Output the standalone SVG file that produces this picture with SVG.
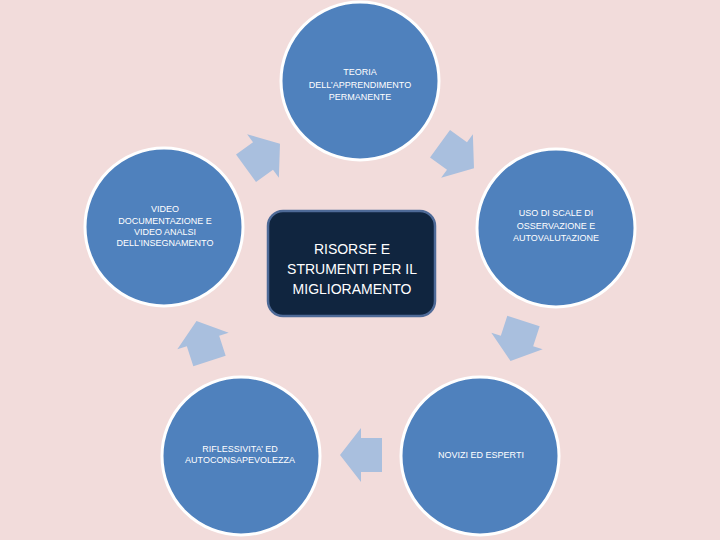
<svg xmlns="http://www.w3.org/2000/svg" width="720" height="540" viewBox="0 0 720 540">
<defs>
<style>
.bg{fill:#F2DCDB}
.node circle{fill:#4F81BD;stroke:#FFFFFF;stroke-width:3}
.nt{font-family:"Liberation Sans",Arial,sans-serif;font-size:9px;fill:#FFFFFF;text-anchor:middle}
.ct{font-family:"Liberation Sans",Arial,sans-serif;font-size:14px;fill:#FFFFFF;text-anchor:middle}
.arr{fill:#A9BFDE}
</style>
<polygon id="arrow" points="-21,-17 0,-17 0,-27 21,0 0,27 0,17 -21,17"/>
</defs>
<rect class="bg" x="0" y="0" width="720" height="540"/>
<g id="connectors" class="arr">
<use href="#arrow" transform="translate(457,156) rotate(36)"/>
<use href="#arrow" transform="translate(517,341) rotate(108)"/>
<use href="#arrow" transform="translate(361,455) rotate(180)"/>
<use href="#arrow" transform="translate(203,341) rotate(252)"/>
<use href="#arrow" transform="translate(263,156) rotate(324)"/>
</g>
<g id="n-teoria" class="node">
<circle cx="360" cy="81" r="79"/>
<text class="nt" x="360" y="75">TEORIA</text>
<text class="nt" x="360" y="88">DELL’APPRENDIMENTO</text>
<text class="nt" x="360" y="100">PERMANENTE</text>
</g>
<g id="n-scale" class="node">
<circle cx="556" cy="228" r="79"/>
<text class="nt" x="556" y="216">USO DI SCALE DI</text>
<text class="nt" x="556" y="229">OSSERVAZIONE E</text>
<text class="nt" x="556" y="241">AUTOVALUTAZIONE</text>
</g>
<g id="n-novizi" class="node">
<circle cx="480" cy="456" r="79"/>
<text class="nt" x="481" y="458">NOVIZI ED ESPERTI</text>
</g>
<g id="n-riflessivita" class="node">
<circle cx="241" cy="456" r="79"/>
<text class="nt" x="240" y="452">RIFLESSIVITA’ ED</text>
<text class="nt" x="240" y="463">AUTOCONSAPEVOLEZZA</text>
</g>
<g id="n-video" class="node">
<circle cx="164" cy="227" r="79"/>
<text class="nt" x="165" y="212">VIDEO</text>
<text class="nt" x="165" y="224">DOCUMENTAZIONE E</text>
<text class="nt" x="165" y="235">VIDEO ANALSI</text>
<text class="nt" x="165" y="246">DELL’INSEGNAMENTO</text>
</g>
<g id="n-center">
<rect x="268" y="211" width="167" height="105" rx="15" ry="15" fill="#10253F" stroke="#4E6A97" stroke-width="2.5"/>
<text class="ct" x="352" y="254">RISORSE E</text>
<text class="ct" x="352" y="274">STRUMENTI PER IL</text>
<text class="ct" x="352" y="294">MIGLIORAMENTO</text>
</g>
</svg>
